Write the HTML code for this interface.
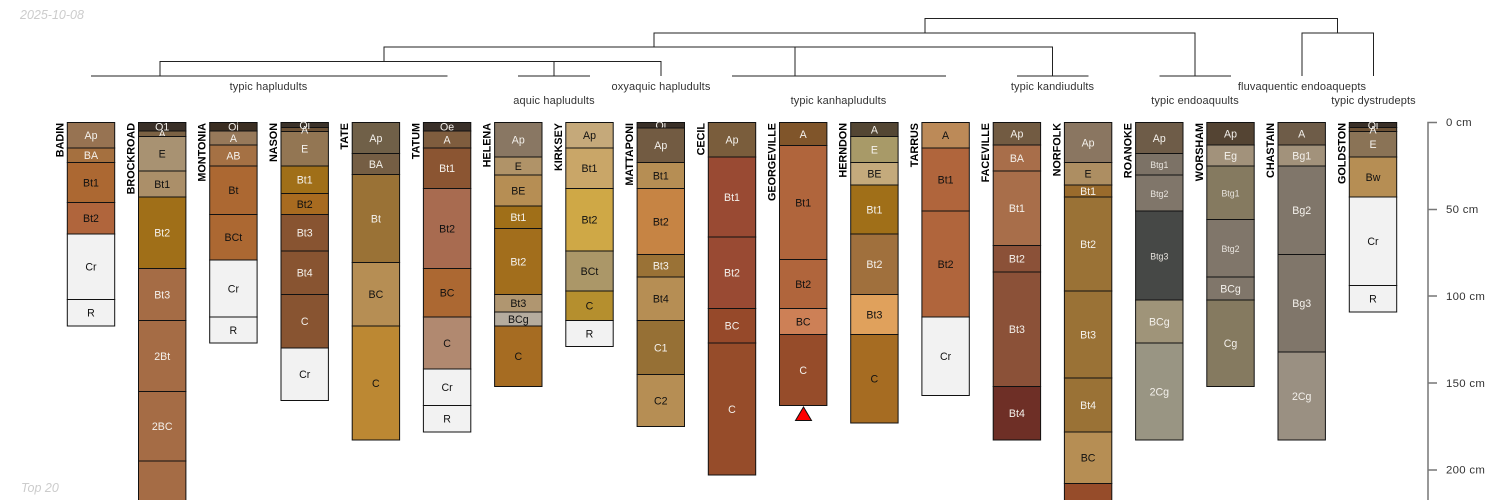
<!DOCTYPE html>
<html><head><meta charset="utf-8"><style>
html,body{margin:0;padding:0;background:#fff}
svg{display:block;font-family:"Liberation Sans",sans-serif}
rect{width:47.4px;stroke:#111;stroke-width:1}
.p text{font-size:10.6px;text-anchor:middle;dominant-baseline:central;fill:#111}
.p text:not(.n){transform:translateY(.8px)}
.p text.w{fill:#f4f1ec}
.p text.s{font-size:8.8px;fill:#e8e4de}
.p text.n{font-size:10.8px;font-weight:bold;text-anchor:end;dominant-baseline:auto;fill:#000}
.t{font-size:11px;text-anchor:middle;fill:#333;letter-spacing:.12px}
.a{font-size:11.4px;fill:#333;dominant-baseline:central;letter-spacing:.3px}
.m{font-size:12.5px;font-style:italic;fill:#ccc}
path.d{fill:none;stroke:#222;stroke-width:1}
</style></head><body>
<svg width="1500" height="500" viewBox="0 0 1500 500" xmlns="http://www.w3.org/2000/svg">
<text class="m" x="20" y="19">2025-10-08</text>
<text class="m" x="21" y="492">Top 20</text>
<path class="d" d="M925 33V18.5H1337.5V33M654 47V33H1195V76M1302 76V33H1373.5V76M384 61.5V47H1052.5V76M795 47V76M160 76V61.5H661V76M554 61.5V76M91 76H447.5M518 76H590M732 76H946M1017 76H1088.5M1159.5 76H1231"/>
<text class="t" x="268.5" y="90">typic hapludults</text>
<text class="t" x="554" y="104">aquic hapludults</text>
<text class="t" x="661" y="90">oxyaquic hapludults</text>
<text class="t" x="838.5" y="104">typic kanhapludults</text>
<text class="t" x="1052.5" y="90">typic kandiudults</text>
<text class="t" x="1195" y="104">typic endoaquults</text>
<text class="t" x="1302" y="90">fluvaquentic endoaquepts</text>
<text class="t" x="1373.5" y="104">typic dystrudepts</text>

<g class="p" transform="translate(67.3 0)"><text class="n" transform="translate(-4 123) rotate(-90)">BADIN</text>
<rect y="122.5" height="25.5" fill="#977352"/><text class="w" x="23.7" y="135.2">Ap</text>
<rect y="148" height="14.5" fill="#A5703F"/><text class="w" x="23.7" y="155.2">BA</text>
<rect y="162.5" height="40" fill="#AC6832"/><text x="23.7" y="182.5">Bt1</text>
<rect y="202.5" height="31.5" fill="#B0653C"/><text x="23.7" y="218.2">Bt2</text>
<rect y="234" height="65.5" fill="#F2F2F2"/><text x="23.7" y="266.8">Cr</text>
<rect y="299.5" height="26.5" fill="#F2F2F2"/><text x="23.7" y="312.8">R</text></g>

<g class="p" transform="translate(138.5 0)"><text class="n" transform="translate(-4 123) rotate(-90)">BROCKROAD</text>
<rect y="122.5" height="8.5" fill="#3A3028"/><text class="w" x="23.7" y="126.8">O1</text>
<rect y="131" height="5.5" fill="#7B6244"/><text class="w" x="23.7" y="133.8">A</text>
<rect y="136.5" height="34.5" fill="#A89272"/><text x="23.7" y="153.8">E</text>
<rect y="171" height="26" fill="#AB8F69"/><text x="23.7" y="184">Bt1</text>
<rect y="197" height="71.5" fill="#A06F18"/><text class="w" x="23.7" y="232.8">Bt2</text>
<rect y="268.5" height="52" fill="#A56C45"/><text class="w" x="23.7" y="294.5">Bt3</text>
<rect y="320.5" height="71" fill="#A56C45"/><text class="w" x="23.7" y="356">2Bt</text>
<rect y="391.5" height="69.5" fill="#A56C45"/><text class="w" x="23.7" y="426.2">2BC</text>
<rect y="461" height="60" fill="#A56C45"/></g>

<g class="p" transform="translate(209.7 0)"><text class="n" transform="translate(-4 123) rotate(-90)">MONTONIA</text>
<rect y="122.5" height="8.5" fill="#3B2E22"/><text class="w" x="23.7" y="126.8">Oi</text>
<rect y="131" height="14" fill="#97795A"/><text class="w" x="23.7" y="138">A</text>
<rect y="145" height="21" fill="#A57144"/><text class="w" x="23.7" y="155.5">AB</text>
<rect y="166" height="48.5" fill="#AC6832"/><text x="23.7" y="190.2">Bt</text>
<rect y="214.5" height="45.5" fill="#AC6832"/><text x="23.7" y="237.2">BCt</text>
<rect y="260" height="57" fill="#F2F2F2"/><text x="23.7" y="288.5">Cr</text>
<rect y="317" height="26" fill="#F2F2F2"/><text x="23.7" y="330">R</text></g>

<g class="p" transform="translate(281 0)"><text class="n" transform="translate(-4 123) rotate(-90)">NASON</text>
<rect y="122.5" height="5" fill="#3C332A"/>
<rect y="127.5" height="4" fill="#6D5236"/>
<rect y="131.5" height="34.5" fill="#937653"/><text class="w" x="23.7" y="148.8">E</text>
<text class="w" x="23.7" y="125">Oi</text><text class="w" x="23.7" y="129.5">A</text>
<rect y="166" height="27.5" fill="#A06F18"/><text class="w" x="23.7" y="179.8">Bt1</text>
<rect y="193.5" height="21" fill="#A86B20"/><text x="23.7" y="204">Bt2</text>
<rect y="214.5" height="36.5" fill="#885431"/><text class="w" x="23.7" y="232.8">Bt3</text>
<rect y="251" height="43.5" fill="#885431"/><text class="w" x="23.7" y="272.8">Bt4</text>
<rect y="294.5" height="53.5" fill="#885431"/><text class="w" x="23.7" y="321.2">C</text>
<rect y="348" height="52.5" fill="#F2F2F2"/><text x="23.7" y="374.2">Cr</text></g>

<g class="p" transform="translate(352.2 0)"><text class="n" transform="translate(-4 123) rotate(-90)">TATE</text>
<rect y="122.5" height="31" fill="#706048"/><text class="w" x="23.7" y="138">Ap</text>
<rect y="153.5" height="21" fill="#755E44"/><text class="w" x="23.7" y="164">BA</text>
<rect y="174.5" height="88" fill="#9A7236"/><text class="w" x="23.7" y="218.5">Bt</text>
<rect y="262.5" height="63.5" fill="#B68E54"/><text x="23.7" y="294.2">BC</text>
<rect y="326" height="114" fill="#BC8833"/><text x="23.7" y="383">C</text></g>

<g class="p" transform="translate(423.4 0)"><text class="n" transform="translate(-4 123) rotate(-90)">TATUM</text>
<rect y="122.5" height="8.5" fill="#3A3029"/><text class="w" x="23.7" y="126.8">Oe</text>
<rect y="131" height="17" fill="#7F5D3E"/><text class="w" x="23.7" y="139.5">A</text>
<rect y="148" height="40.5" fill="#8B5532"/><text class="w" x="23.7" y="168.2">Bt1</text>
<rect y="188.5" height="80" fill="#A86B50"/><text x="23.7" y="228.5">Bt2</text>
<rect y="268.5" height="48.5" fill="#AC6832"/><text x="23.7" y="292.8">BC</text>
<rect y="317" height="52" fill="#B18970"/><text x="23.7" y="343">C</text>
<rect y="369" height="36.5" fill="#F2F2F2"/><text x="23.7" y="387.2">Cr</text>
<rect y="405.5" height="26.5" fill="#F2F2F2"/><text x="23.7" y="418.8">R</text></g>

<g class="p" transform="translate(494.6 0)"><text class="n" transform="translate(-4 123) rotate(-90)">HELENA</text>
<rect y="122.5" height="34.5" fill="#897763"/><text class="w" x="23.7" y="139.8">Ap</text>
<rect y="157" height="18" fill="#B09368"/><text x="23.7" y="166">E</text>
<rect y="175" height="31" fill="#B68E54"/><text x="23.7" y="190.5">BE</text>
<rect y="206" height="22.5" fill="#A06F18"/><text class="w" x="23.7" y="217.2">Bt1</text>
<rect y="228.5" height="66" fill="#A26E1C"/><text class="w" x="23.7" y="261.5">Bt2</text>
<rect y="294.5" height="17.5" fill="#B09670"/><text x="23.7" y="303.2">Bt3</text>
<rect y="312" height="14" fill="#B5AC9E"/><text x="23.7" y="319">BCg</text>
<rect y="326" height="60.5" fill="#A66C22"/><text x="23.7" y="356.2">C</text></g>

<g class="p" transform="translate(565.8 0)"><text class="n" transform="translate(-4 123) rotate(-90)">KIRKSEY</text>
<rect y="122.5" height="25.5" fill="#C5A97A"/><text x="23.7" y="135.2">Ap</text>
<rect y="148" height="40.5" fill="#C9A668"/><text x="23.7" y="168.2">Bt1</text>
<rect y="188.5" height="62.5" fill="#CFA846"/><text x="23.7" y="219.8">Bt2</text>
<rect y="251" height="40" fill="#AB9768"/><text x="23.7" y="271">BCt</text>
<rect y="291" height="29.5" fill="#B58F2E"/><text x="23.7" y="305.8">C</text>
<rect y="320.5" height="26" fill="#F2F2F2"/><text x="23.7" y="333.5">R</text></g>

<g class="p" transform="translate(637.1 0)"><text class="n" transform="translate(-4 123) rotate(-90)">MATTAPONI</text>
<rect y="122.5" height="5.5" fill="#3A3028"/><text class="w" x="23.7" y="125.2">Oi</text>
<rect y="128" height="34.5" fill="#725B42"/><text class="w" x="23.7" y="145.2">Ap</text>
<rect y="162.5" height="26" fill="#B68E54"/><text x="23.7" y="175.5">Bt1</text>
<rect y="188.5" height="66" fill="#C68444"/><text x="23.7" y="221.5">Bt2</text>
<rect y="254.5" height="22.5" fill="#9A7236"/><text class="w" x="23.7" y="265.8">Bt3</text>
<rect y="277" height="43.5" fill="#B68E54"/><text x="23.7" y="298.8">Bt4</text>
<rect y="320.5" height="54" fill="#967035"/><text class="w" x="23.7" y="347.5">C1</text>
<rect y="374.5" height="52" fill="#B68E54"/><text x="23.7" y="400.5">C2</text></g>

<g class="p" transform="translate(708.3 0)"><text class="n" transform="translate(-4 123) rotate(-90)">CECIL</text>
<rect y="122.5" height="34.5" fill="#7A5D3C"/><text class="w" x="23.7" y="139.8">Ap</text>
<rect y="157" height="80" fill="#994A33"/><text class="w" x="23.7" y="197">Bt1</text>
<rect y="237" height="71.5" fill="#994A33"/><text class="w" x="23.7" y="272.8">Bt2</text>
<rect y="308.5" height="34.5" fill="#96492A"/><text class="w" x="23.7" y="325.8">BC</text>
<rect y="343" height="132" fill="#964C2A"/><text class="w" x="23.7" y="409">C</text></g>

<g class="p" transform="translate(779.5 0)"><text class="n" transform="translate(-4 123) rotate(-90)">GEORGEVILLE</text>
<rect y="122.5" height="23" fill="#80552A"/><text class="w" x="23.7" y="134">A</text>
<rect y="145.5" height="114" fill="#B0653C"/><text x="23.7" y="202.5">Bt1</text>
<rect y="259.5" height="49" fill="#B0653C"/><text x="23.7" y="284">Bt2</text>
<rect y="308.5" height="26" fill="#CD8056"/><text x="23.7" y="321.5">BC</text>
<rect y="334.5" height="71" fill="#964C2A"/><text class="w" x="23.7" y="370">C</text></g>
<polygon points="795.5,420.5 811.5,420.5 803.5,407" fill="#f00" stroke="#111" stroke-width="1"/>

<g class="p" transform="translate(850.7 0)"><text class="n" transform="translate(-4 123) rotate(-90)">HERNDON</text>
<rect y="122.5" height="14" fill="#534633"/><text class="w" x="23.7" y="129.5">A</text>
<rect y="136.5" height="26" fill="#A89A68"/><text class="w" x="23.7" y="149.5">E</text>
<rect y="162.5" height="22.5" fill="#C4AA7C"/><text x="23.7" y="173.8">BE</text>
<rect y="185" height="49" fill="#A06F18"/><text class="w" x="23.7" y="209.5">Bt1</text>
<rect y="234" height="60.5" fill="#A0703D"/><text class="w" x="23.7" y="264.2">Bt2</text>
<rect y="294.5" height="40" fill="#E0A15C"/><text x="23.7" y="314.5">Bt3</text>
<rect y="334.5" height="88.5" fill="#A66C22"/><text x="23.7" y="378.8">C</text></g>

<g class="p" transform="translate(921.9 0)"><text class="n" transform="translate(-4 123) rotate(-90)">TARRUS</text>
<rect y="122.5" height="25.5" fill="#BC8A58"/><text x="23.7" y="135.2">A</text>
<rect y="148" height="63" fill="#B0653C"/><text x="23.7" y="179.5">Bt1</text>
<rect y="211" height="106" fill="#B0653C"/><text x="23.7" y="264">Bt2</text>
<rect y="317" height="78.5" fill="#F2F2F2"/><text x="23.7" y="356.2">Cr</text></g>

<g class="p" transform="translate(993.2 0)"><text class="n" transform="translate(-4 123) rotate(-90)">FACEVILLE</text>
<rect y="122.5" height="22.5" fill="#725B42"/><text class="w" x="23.7" y="133.8">Ap</text>
<rect y="145" height="26" fill="#A86E4A"/><text class="w" x="23.7" y="158">BA</text>
<rect y="171" height="74.5" fill="#A86E4A"/><text class="w" x="23.7" y="208.2">Bt1</text>
<rect y="245.5" height="26.5" fill="#8B5138"/><text class="w" x="23.7" y="258.8">Bt2</text>
<rect y="272" height="114.5" fill="#8B5138"/><text class="w" x="23.7" y="329.2">Bt3</text>
<rect y="386.5" height="53.5" fill="#6E2F26"/><text class="w" x="23.7" y="413.2">Bt4</text></g>

<g class="p" transform="translate(1064.4 0)"><text class="n" transform="translate(-4 123) rotate(-90)">NORFOLK</text>
<rect y="122.5" height="40" fill="#8A7661"/><text class="w" x="23.7" y="142.5">Ap</text>
<rect y="162.5" height="22.5" fill="#AD8E62"/><text x="23.7" y="173.8">E</text>
<rect y="185" height="12" fill="#9A6B2C"/><text class="w" x="23.7" y="191">Bt1</text>
<rect y="197" height="94" fill="#9A7236"/><text class="w" x="23.7" y="244">Bt2</text>
<rect y="291" height="87" fill="#9A7236"/><text class="w" x="23.7" y="334.5">Bt3</text>
<rect y="378" height="54" fill="#9A7236"/><text class="w" x="23.7" y="405">Bt4</text>
<rect y="432" height="51.5" fill="#B68E54"/><text x="23.7" y="457.8">BC</text>
<rect y="483.5" height="40" fill="#964C2A"/></g>

<g class="p" transform="translate(1135.6 0)"><text class="n" transform="translate(-4 123) rotate(-90)">ROANOKE</text>
<rect y="122.5" height="31" fill="#6E5C48"/><text class="w" x="23.7" y="138">Ap</text>
<rect y="153.5" height="21.5" fill="#7C7266"/><text class="s" x="23.7" y="164.2">Btg1</text>
<rect y="175" height="36" fill="#80766A"/><text class="s" x="23.7" y="193">Btg2</text>
<rect y="211" height="89" fill="#464846"/><text class="s" x="23.7" y="255.5">Btg3</text>
<rect y="300" height="43" fill="#9F9479"/><text class="w" x="23.7" y="321.5">BCg</text>
<rect y="343" height="97" fill="#999583"/><text class="w" x="23.7" y="391.5">2Cg</text></g>

<g class="p" transform="translate(1206.8 0)"><text class="n" transform="translate(-4 123) rotate(-90)">WORSHAM</text>
<rect y="122.5" height="22.5" fill="#544433"/><text class="w" x="23.7" y="133.8">Ap</text>
<rect y="145" height="21" fill="#A2927B"/><text class="w" x="23.7" y="155.5">Eg</text>
<rect y="166" height="53.5" fill="#857A60"/><text class="s" x="23.7" y="192.8">Btg1</text>
<rect y="219.5" height="57.5" fill="#80766A"/><text class="s" x="23.7" y="248.2">Btg2</text>
<rect y="277" height="23" fill="#80766A"/><text class="w" x="23.7" y="288.5">BCg</text>
<rect y="300" height="86.5" fill="#857A60"/><text class="w" x="23.7" y="343.2">Cg</text></g>

<g class="p" transform="translate(1278 0)"><text class="n" transform="translate(-4 123) rotate(-90)">CHASTAIN</text>
<rect y="122.5" height="22.5" fill="#6E5C48"/><text class="w" x="23.7" y="133.8">A</text>
<rect y="145" height="21" fill="#A2927B"/><text class="w" x="23.7" y="155.5">Bg1</text>
<rect y="166" height="88.5" fill="#80766A"/><text class="w" x="23.7" y="210.2">Bg2</text>
<rect y="254.5" height="97.5" fill="#80766A"/><text class="w" x="23.7" y="303.2">Bg3</text>
<rect y="352" height="88" fill="#9A9082"/><text class="w" x="23.7" y="396">2Cg</text></g>

<g class="p" transform="translate(1349.3 0)"><text class="n" transform="translate(-4 123) rotate(-90)">GOLDSTON</text>
<rect y="122.5" height="5" fill="#3A3028"/>
<rect y="127.5" height="4" fill="#6D5236"/>
<rect y="131.5" height="25.5" fill="#8A7356"/><text class="w" x="23.7" y="144.2">E</text>
<text class="w" x="23.7" y="125">Oi</text><text class="w" x="23.7" y="129.5">A</text>
<rect y="157" height="40" fill="#B68E54"/><text x="23.7" y="177">Bw</text>
<rect y="197" height="88.5" fill="#F2F2F2"/><text x="23.7" y="241.2">Cr</text>
<rect y="285.5" height="26.5" fill="#F2F2F2"/><text x="23.7" y="298.8">R</text></g>

<path d="M1437 122.5H1428V500M1428 209.5H1437M1428 296H1437M1428 383H1437M1428 470H1437" fill="none" stroke="#777" stroke-width="1.5"/>
<text class="a" x="1446" y="123">0 cm</text>
<text class="a" x="1446" y="210">50 cm</text>
<text class="a" x="1446" y="297">100 cm</text>
<text class="a" x="1446" y="384">150 cm</text>
<text class="a" x="1446" y="470.5">200 cm</text>
</svg>
</body></html>
